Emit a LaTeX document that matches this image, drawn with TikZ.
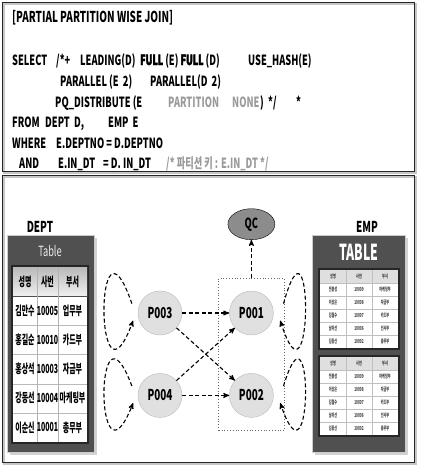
\documentclass[tikz,border=0pt]{standalone}
\usepackage{fontspec}
\setmainfont{Noto Sans CJK KR}
\newfontfamily\condfont{Noto Sans CJK KR}[FakeStretch=0.66]
\newfontfamily\tabfont{Noto Sans CJK KR}[FakeStretch=0.56]
\newfontfamily\fullfont{Noto Sans CJK KR}[FakeStretch=0.64,FakeBold=3]
\usetikzlibrary{shapes,arrows,positioning,fit}
\definecolor{hintgray}{HTML}{9A9A9A}
\definecolor{framegray}{HTML}{505050}
\tikzset{
  code/.style = {anchor=base west, inner sep=0pt,
    font=\condfont\bfseries\fontsize{14}{16}\selectfont},
  hint/.style = {code, text=hintgray},% grey part of the hint
  pnode/.style = {circle, draw=gray!55, fill=black!12, minimum size=44pt,
    inner sep=0pt, font=\condfont\bfseries\fontsize{15}{17}\selectfont},
  qcnode/.style = {ellipse, draw=black, fill=black!45, minimum width=47pt,
    minimum height=31pt, inner sep=0pt,
    font=\condfont\bfseries\fontsize{14}{16}\selectfont},
  flow/.style = {->, dash pattern=on 4pt off 2.5pt, line width=1.1pt},
  grp/.style = {draw=gray!80!black, dotted, line width=0.8pt,
    inner xsep=10.5pt, inner ysep=12.5pt},
  tname/.style = {inner sep=0pt, font=\condfont\bfseries\fontsize{15}{17}\selectfont},
  dcell/.style = {inner sep=0pt, font=\tabfont\bfseries\fontsize{12.5}{14}\selectfont},
  ecell/.style = {inner sep=0pt, text=black!75,
    font=\tabfont\bfseries\fontsize{5.5}{6}\selectfont}
}
\begin{document}
\begin{tikzpicture}[x=1pt, y=-1pt, >=stealth']
  \useasboundingbox (0,0) rectangle (423,467);
  % query panel
  \draw[gray!45, line width=2pt] (4,4) rectangle (416,173);
  \draw[black!85, line width=0.9pt] (2,2) rectangle (414,171);
  \node[code, font=\condfont\bfseries\fontsize{15}{17}\selectfont] (title) at (12,22) {[PARTIAL PARTITION WISE JOIN]};
  \node[code] (sel) at (12,65) {SELECT};
  \node[code] (hstart) at (56,65) {/*+};
  \node[code] (lead) at (80,65) {LEADING(D)};
  \node[code] (full) at (140,65) {{\fullfont\bfseries FULL} (E) {\fullfont\bfseries FULL} (D)};
  \node[code] (hash) at (248,65) {USE\_HASH(E)};
  \node[code] (parE) at (60,86) {PARALLEL (E\ \ 2)};
  \node[code] (parD) at (150,86) {PARALLEL(D\ \ 2)};
  \node[code] (pqd) at (55,107) {PQ\_DISTRIBUTE (E};
  \node[hint] (part) at (168,107) {PARTITION};
  \node[hint] (none) at (232,107) {NONE};
  \node[code] (hend) at (260,107) {)\ \ */};
  \node[code] (star) at (296,107) {*};
  \node[code] (from) at (12,127) {FROM};
  \node[code] (dept) at (45,127) {DEPT\ \ D,};
  \node[code] (emp) at (108,127) {EMP\ \ E};
  \node[code] (where) at (12,148) {WHERE};
  \node[code] (cond1) at (56,148) {E.DEPTNO = D.DEPTNO};
  \node[code] (and) at (19,168) {AND};
  \node[code] (cond2) at (58,168) {E.IN\_DT};
  \node[code] (cond3) at (103,168) {= D. IN\_DT};
  \node[hint] (note) at (166,168) {/* 파티션 키 : E.IN\_DT */};

  % plan panel
  \draw[gray!45, line width=2pt] (4,177) rectangle (416,464);
  \draw[black!85, line width=0.9pt] (2,175) rectangle (414,462);

  % DEPT table
  \node[tname] (deptname) at (40,227) {DEPT};
  \fill[gray!35] (10,238) rectangle (97,455);
  \draw[gray!40, fill=framegray] (7,235) rectangle (94,452);
  \node[tname, text=gray!15, font=\condfont\fontsize{14}{16}\selectfont] (depttab) at (50,251) {Table};
  \fill[black!85] (11,265) rectangle (89,444);
  \shade[top color=gray!55, bottom color=gray!12] (13,267) rectangle (87,296.2);
  \fill[white] (13,296.2) rectangle (87,442);
  \foreach \y in {325.3,354.5,383.7,412.8}
    \draw[gray!55] (13,\y) -- (87,\y);
  \draw[black!70] (13,296.2) -- (87,296.2);
  \draw[gray!60] (37,267) -- (37,442) (58,267) -- (58,442);
  \foreach \a/\b/\c [count=\i from 0] in {성명/사번/부서, 김만수/10005/업무부,
      홍길순/10010/카드부, 홍상석/10003/자금부, 강동선/10004/마케팅부, 이순신/10001/총무부} {
    \node[dcell] (d\i a) at (25,{281.6+29.17*\i}) {\a};
    \node[dcell] (d\i b) at (47.5,{281.6+29.17*\i}) {\b};
    \node[dcell] (d\i c) at (72.5,{281.6+29.17*\i}) {\c};
  }

  % EMP table
  \node[tname] (empname) at (367,227) {EMP};
  \fill[gray!35] (315,238) rectangle (408,455);
  \draw[gray!40, fill=framegray] (312,235) rectangle (405,452);
  \node[tname, text=white, font=\tabfont\bfseries\fontsize{22}{24}\selectfont] (emptab) at (359,252) {TABLE};
  \foreach \t/\top in {1/270, 2/357} {
    \fill[black!85] (318,\top-2) rectangle (400,\top+80);
    \fill[white] (320,\top) rectangle (398,\top+78);
    \fill[gray!25] (320,\top) rectangle (398,\top+13);
    \foreach \k in {1,...,5}
      \draw[gray!50] (320,\top+13*\k) -- (398,\top+13*\k);
    \draw[gray!50] (346,\top) -- (346,\top+78) (372,\top) -- (372,\top+78);
    \foreach \a/\b/\c [count=\i from 0] in {성명/사번/부서, 전봉성/10009/마케팅부,
        이상은/10008/자금부, 김철수/10007/카드부, 남미선/10006/인사부, 김동신/10002/총무부} {
      \node[ecell] (e\t\i a) at (333,\top+6.5+13*\i) {\a};
      \node[ecell] (e\t\i b) at (359,\top+6.5+13*\i) {\b};
      \node[ecell] (e\t\i c) at (385,\top+6.5+13*\i) {\c};
    }
  }

  % slaves and query coordinator
  \node[pnode] (P003) at (160,313) {P003};
  \node[pnode, right=47pt of P003] (P001) {P001};
  \node[pnode, below=38pt of P003] (P004) {P004};
  \node[pnode, below=38pt of P001] (P002) {P002};
  \node[grp, fit=(P001)(P002)] (grp) {};
  \node[qcnode, above=38pt of grp] (QC) {QC};

  \draw[flow] (P003) -- (P001);
  \draw[flow] (P004) -- (P002);
  \draw[flow] (P003) -- (P002);
  \draw[flow] (P004) -- (P001);
  \draw[flow] (grp.north) -- (QC.south);

  % scans of own partitions
  \draw[flow] ([xshift=-8pt]P003.155) .. controls +(-37.5,-109) and +(-38.5,104.5) .. ([xshift=-6pt]P003.200);
  \draw[flow] ([xshift=-8pt]P004.155) .. controls +(-37.5,-100) and +(-38.5,98) .. ([xshift=-6pt]P004.200);
  \draw[flow] ([xshift=12pt]P001.25) .. controls +(30,-109) and +(33,104.5) .. ([xshift=8pt]P001.-20);
  \draw[flow] ([xshift=12pt]P002.25) .. controls +(30,-100) and +(33,98) .. ([xshift=8pt]P002.-20);
\end{tikzpicture}
\end{document}
